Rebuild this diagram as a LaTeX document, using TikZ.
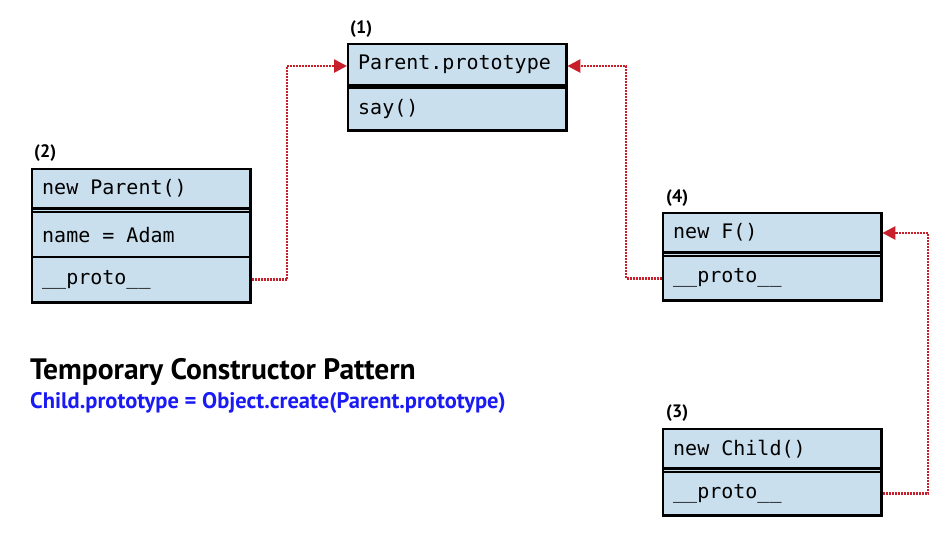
\documentclass[tikz,border=0pt]{standalone}
\usepackage{fontspec}
\setmainfont{PT Sans}
\newfontfamily\codefont{DejaVu Sans Mono}
\newfontfamily\headfont{PT Sans}
\newcommand\msp{\hspace*{0.602em}}
\usetikzlibrary{arrows.meta,shadows,backgrounds}
\definecolor{boxfill}{HTML}{CADFEE}
\definecolor{linkred}{HTML}{C8202A}
\definecolor{capblue}{HTML}{1A1AF5}
\tikzset{
  row/.style={anchor=north west, minimum width=218pt, text width=198pt, inner xsep=10pt, inner ysep=0pt, font=\codefont\fontsize{20}{22}\selectfont},
  outline/.style={draw=black, line width=2.6pt, fill=boxfill, drop shadow={shadow xshift=2pt, shadow yshift=-2pt, opacity=0.45}},
  divider/.style={draw=black, line width=2.2pt},
  numlabel/.style={anchor=west, inner sep=0pt, font=\headfont\bfseries\fontsize{18}{20}\selectfont},
  conn/.style={draw=linkred, line width=2.6pt, dash pattern=on 1.8pt off 1.2pt, -{Triangle[length=13pt,width=13pt]}},
}
\begin{document}
\begin{tikzpicture}[x=1pt,y=-1pt]
\useasboundingbox (0,0) rectangle (950,550);

% Box (1)
\node[row, minimum height=41pt] (r1a) at (348,44) {Parent.prototype};
\node[row, minimum height=42pt] (r1b) at (348,88) {say()};
\node[numlabel] (n1) at (350,29) {(1)};

% Box (2)
\node[row, minimum height=39pt] (r2a) at (32,169) {new\msp Parent()};
\node[row, minimum height=45pt] (r2b) at (32,212) {name\msp=\msp Adam};
\node[row, minimum height=45pt] (r2c) at (32,257) {\_\_proto\_\_};
\node[numlabel] (n2) at (34,153) {(2)};

% Box (4)
\node[row, minimum height=39pt] (r4a) at (663,213) {new\msp F()};
\node[row, minimum height=44pt] (r4b) at (663,256) {\_\_proto\_\_};
\node[numlabel] (n4) at (666,198) {(4)};

% Box (3)
\node[row, minimum height=39pt] (r3a) at (663,429) {new\msp Child()};
\node[row, minimum height=43pt] (r3b) at (663,472) {\_\_proto\_\_};
\node[numlabel] (n3) at (666,413) {(3)};

\begin{scope}[on background layer]
  \path[outline] (r1a.north west) rectangle (r1b.south east);
  \path[outline] (r2a.north west) rectangle (r2c.south east);
  \path[outline] (r4a.north west) rectangle (r4b.south east);
  \path[outline] (r3a.north west) rectangle (r3b.south east);
\end{scope}

% dividers
\draw[divider] (r1a.south west) -- (r1a.south east);
\draw[divider] (r1b.north west) -- (r1b.north east);
\draw[divider] (r2a.south west) -- (r2a.south east);
\draw[divider] (r2b.north west) -- (r2b.north east);
\draw[divider] (r2c.north west) -- (r2c.north east);
\draw[divider] (r4a.south west) -- (r4a.south east);
\draw[divider] (r4b.north west) -- (r4b.north east);
\draw[divider] (r3a.south west) -- (r3a.south east);
\draw[divider] (r3b.north west) -- (r3b.north east);

% connectors
\coordinate (k1) at (287,66);
\coordinate (k2) at (626,66);
\coordinate (k3) at (928,233);
\draw[conn] ([xshift=1.5pt]r2c.east) -| (k1) -- ([xshift=-1pt]k1 -| r1a.west);
\draw[conn] ([xshift=-1.5pt]r4b.west) -| (k2) -- ([xshift=1pt]k2 -| r1a.east);
\draw[conn] ([xshift=1.5pt]r3b.east) -| (k3) -- ([xshift=1pt]k3 -| r4a.east);

% captions
\node[anchor=base west, inner sep=0pt, font=\headfont\bfseries\fontsize{29.5}{32}\selectfont] (title) at (30,379) {Temporary Constructor Pattern};
\node[anchor=base west, inner sep=0pt, text=capblue, font=\headfont\bfseries\fontsize{22.5}{25}\selectfont] (sub) at (30,408) {Child.prototype = Object.create(Parent.prototype)};
\end{tikzpicture}
\end{document}
